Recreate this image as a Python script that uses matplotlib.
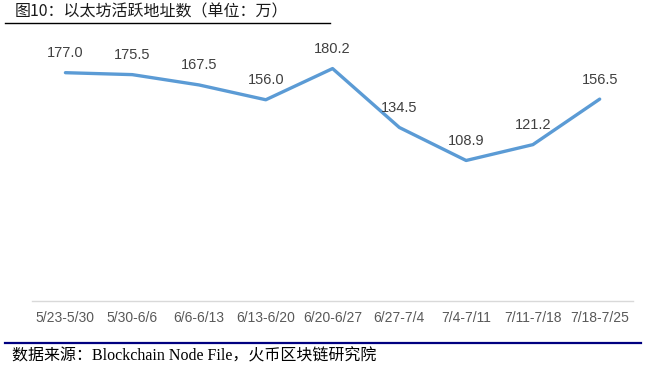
import matplotlib
matplotlib.use("Agg")
import matplotlib.pyplot as plt
from matplotlib.lines import Line2D

categories = ["5/23-5/30", "5/30-6/6", "6/6-6/13", "6/13-6/20", "6/20-6/27",
              "6/27-7/4", "7/4-7/11", "7/11-7/18", "7/18-7/25"]
values = [177.0, 175.5, 167.5, 156.0, 180.2, 134.5, 108.9, 121.2, 156.5]

title = "图10：以太坊活跃地址数（单位：万）"
source = "数据来源：Blockchain Node File，火币区块链研究院"

fig = plt.figure(figsize=(6.54, 3.71), dpi=100)
ax = fig.add_axes([0.049, 0.189, 0.919, 0.695])

x = list(range(len(categories)))
ax.plot(x, values, color="#5B9BD5", lw=2.4, solid_capstyle="round", solid_joinstyle="round")
for xi, v in zip(x, values):
    ax.annotate(f"{v:.1f}", (xi, v), xytext=(0, 9), textcoords="offset points",
                ha="center", va="bottom", fontsize=10.5, color="#404040",
                family=["Liberation Sans", "DejaVu Sans"])

ax.set_xlim(-0.5, len(categories) - 0.5)
ax.set_ylim(0, 200)
ax.set_xticks(x)
ax.set_xticklabels(categories, fontsize=10, color="#595959", family=["Liberation Sans"])
ax.tick_params(axis="x", length=0, pad=7)
ax.set_yticks([])
for s in ["top", "right", "left"]:
    ax.spines[s].set_visible(False)
ax.spines["bottom"].set_color("#D9D9D9")
ax.spines["bottom"].set_linewidth(1.0)

fig.text(0.022, 0.967, title, fontsize=11.5, color="#1a1a1a", va="center", ha="left",
         family=["Noto Sans CJK SC", "DejaVu Sans"])
fig.add_artist(Line2D([0.008, 0.505], [0.937, 0.937], color="black", lw=1.0,
                      transform=fig.transFigure))
fig.add_artist(Line2D([0.008, 0.98], [0.075, 0.075], color="#000080", lw=1.6,
                      transform=fig.transFigure))
fig.text(0.018, 0.04, source, fontsize=11.5, color="black", va="center", ha="left",
         family=["Liberation Serif", "Noto Sans CJK SC"])

fig.savefig("out.png", dpi=100)
